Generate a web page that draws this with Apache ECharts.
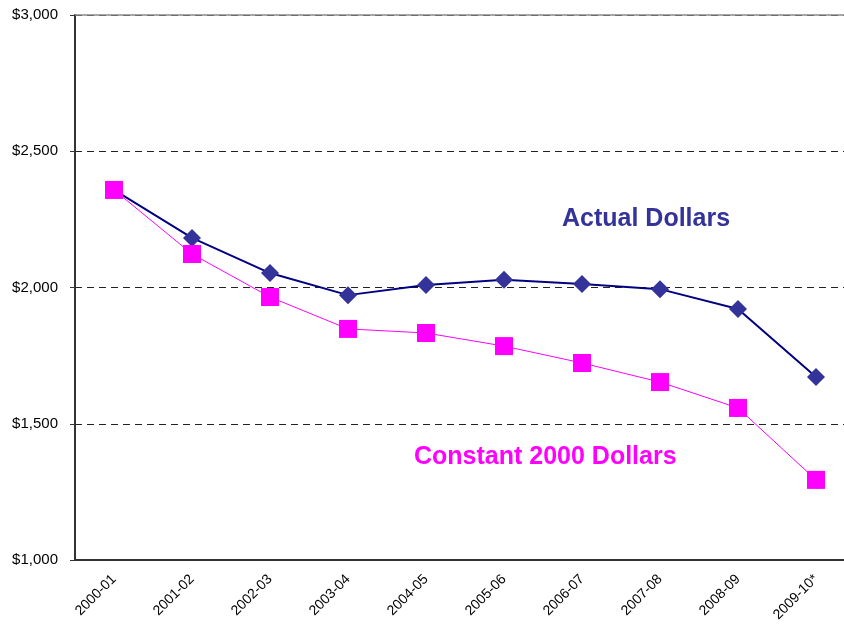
<!DOCTYPE html>
<html>
<head>
<meta charset="utf-8">
<script src="https://cdn.jsdelivr.net/npm/echarts@6/dist/echarts.min.js"></script>
<style>
  html, body { margin: 0; padding: 0; background: #fff; }
  #chart { width: 844px; height: 632px; }
</style>
</head>
<body>
<div id="chart"></div>
<script>
const years = ['2000-01', '2001-02', '2002-03', '2003-04', '2004-05', '2005-06', '2006-07', '2007-08', '2008-09', '2009-10*'];
const actualDollars = [2358, 2182, 2053, 1972, 2009, 2028, 2013, 1994, 1921, 1672];
const constantDollars = [2358, 2123, 1965, 1848, 1833, 1785, 1723, 1653, 1558, 1294];
const yTicks = [1000, 1500, 2000, 2500, 3000];

const chart = echarts.init(document.getElementById('chart'));
const fontFamily = '"Liberation Sans", Arial, sans-serif';

chart.setOption({
  animation: false,
  textStyle: { fontFamily: fontFamily },
  grid: { left: 75, top: 15, width: 780, height: 545, outerBoundsMode: 'none', containLabel: false },
  xAxis: {
    type: 'category',
    data: years,
    boundaryGap: true,
    axisLine: { lineStyle: { color: '#333', width: 2 } },
    axisTick: { length: 5, lineStyle: { color: '#333' } },
    axisLabel: { rotate: 45, color: '#000', fontSize: 14, margin: 17, fontFamily: fontFamily },
    splitLine: { show: false }
  },
  yAxis: {
    type: 'value',
    min: yTicks[0],
    max: yTicks[yTicks.length - 1],
    interval: 500,
    axisLine: { show: true, lineStyle: { color: '#333', width: 2 } },
    axisTick: { show: true, length: 5, lineStyle: { color: '#333' } },
    axisLabel: {
      color: '#000', fontSize: 15, margin: 17, fontFamily: fontFamily,
      formatter: v => '$' + v.toLocaleString('en-US')
    },
    splitLine: { lineStyle: { color: '#222', type: [7, 5], width: 1 } }
  },
  series: [
    {
      name: 'Actual Dollars',
      type: 'line',
      data: actualDollars,
      symbol: 'diamond',
      symbolSize: 18,
      lineStyle: { color: '#000080', width: 2 },
      itemStyle: { color: '#333399' },
      markLine: {
        silent: true,
        symbol: 'none',
        label: { show: false },
        lineStyle: { color: '#888', type: 'solid', width: 1.5 },
        data: [{ yAxis: 3000 }]
      }
    },
    {
      name: 'Constant 2000 Dollars',
      type: 'line',
      data: constantDollars,
      symbol: 'rect',
      symbolSize: 18,
      lineStyle: { color: '#ff00ff', width: 1 },
      itemStyle: { color: '#ff00ff' }
    }
  ],
  graphic: [
    {
      type: 'text', left: 562, top: 207,
      style: { text: 'Actual Dollars', fill: '#333399', font: 'bold 25px ' + fontFamily }
    },
    {
      type: 'text', left: 414, top: 445,
      style: { text: 'Constant 2000 Dollars', fill: '#ff00ff', font: 'bold 25px ' + fontFamily }
    }
  ]
});
</script>
</body>
</html>
